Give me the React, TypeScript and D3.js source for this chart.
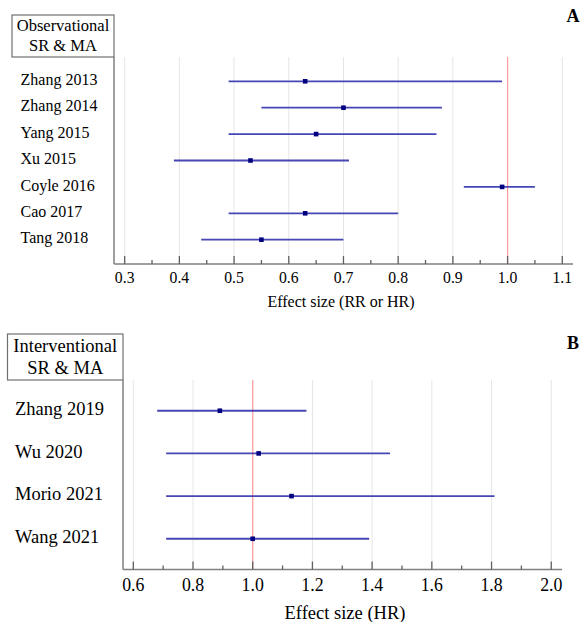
import React, { useEffect, useRef } from "react";
import * as d3 from "d3";

// Panel A: observational SR & MA
const obsStudies = ["Zhang 2013", "Zhang 2014", "Yang 2015", "Xu 2015", "Coyle 2016", "Cao 2017", "Tang 2018"];
const obsEffect = [0.63, 0.7, 0.65, 0.53, 0.99, 0.63, 0.55];
const obsLower = [0.49, 0.55, 0.49, 0.39, 0.92, 0.49, 0.44];
const obsUpper = [0.99, 0.88, 0.87, 0.71, 1.05, 0.8, 0.7];
const obsTicks = [0.3, 0.4, 0.5, 0.6, 0.7, 0.8, 0.9, 1.0, 1.1];
const obsMinorTicks = [0.35, 0.45, 0.55, 0.65, 0.75, 0.85, 0.95, 1.05];

// Panel B: interventional SR & MA
const intStudies = ["Zhang 2019", "Wu 2020", "Morio 2021", "Wang 2021"];
const intEffect = [0.89, 1.02, 1.13, 1.0];
const intLower = [0.68, 0.71, 0.71, 0.71];
const intUpper = [1.18, 1.46, 1.81, 1.39];
const intTicks = [0.6, 0.8, 1.0, 1.2, 1.4, 1.6, 1.8, 2.0];
const intMinorTicks = [0.7, 0.9, 1.1, 1.3, 1.5, 1.7, 1.9];

const FONT = '"Liberation Serif", "DejaVu Serif", serif';

const drawPanel = (svg, p) => {
  const g = svg.append("g").attr("font-family", FONT);

  const x = d3.scaleLinear().domain(p.domain).range([p.left, p.right]);
  const y = d3.scalePoint().domain(p.studies).range([p.top, p.bottom]).padding(p.pad);

  // gridlines
  g.selectAll(".grid")
    .data(p.ticks)
    .enter()
    .append("line")
    .attr("x1", (d) => x(d))
    .attr("x2", (d) => x(d))
    .attr("y1", p.top)
    .attr("y2", p.bottom)
    .attr("stroke", "#e6e6e6")
    .attr("stroke-width", 1);

  // reference line at 1
  g.append("line")
    .attr("x1", x(1))
    .attr("x2", x(1))
    .attr("y1", p.top)
    .attr("y2", p.bottom)
    .attr("stroke", "#ff9a9a")
    .attr("stroke-width", 1.2);

  // header box
  g.append("rect")
    .attr("x", p.boxX)
    .attr("y", p.boxY)
    .attr("width", p.left - p.boxX)
    .attr("height", p.top - p.boxY)
    .attr("fill", "none")
    .attr("stroke", "#707070")
    .attr("stroke-width", 1.2);

  p.boxLines.forEach((t, i) => {
    g.append("text")
      .attr("x", (p.boxX + p.left) / 2)
      .attr("y", p.boxY + p.boxLineY[i])
      .attr("text-anchor", "middle")
      .attr("dominant-baseline", "middle")
      .attr("font-size", p.boxFont)
      .text(t);
  });

  // axes lines
  g.append("line")
    .attr("x1", p.left)
    .attr("x2", p.left)
    .attr("y1", p.top)
    .attr("y2", p.bottom)
    .attr("stroke", "#808080")
    .attr("stroke-width", 1.5);
  g.append("line")
    .attr("x1", p.left)
    .attr("x2", p.right)
    .attr("y1", p.bottom)
    .attr("y2", p.bottom)
    .attr("stroke", "#808080")
    .attr("stroke-width", 1.5);

  // ticks
  g.selectAll(".major")
    .data(p.ticks)
    .enter()
    .append("line")
    .attr("x1", (d) => x(d))
    .attr("x2", (d) => x(d))
    .attr("y1", p.bottom)
    .attr("y2", p.bottom - 8)
    .attr("stroke", "#606060")
    .attr("stroke-width", 1.3);
  g.selectAll(".minor")
    .data(p.minor)
    .enter()
    .append("line")
    .attr("x1", (d) => x(d))
    .attr("x2", (d) => x(d))
    .attr("y1", p.bottom)
    .attr("y2", p.bottom - 4)
    .attr("stroke", "#606060")
    .attr("stroke-width", 1.3);

  g.selectAll(".tickLabel")
    .data(p.ticks)
    .enter()
    .append("text")
    .attr("x", (d) => x(d))
    .attr("y", p.bottom + p.tickLabelDy)
    .attr("text-anchor", "middle")
    .attr("dominant-baseline", "middle")
    .attr("font-size", p.tickFont)
    .text((d) => d3.format(".1f")(d));

  g.append("text")
    .attr("x", p.titleX)
    .attr("y", p.bottom + p.titleDy)
    .attr("text-anchor", "middle")
    .attr("dominant-baseline", "middle")
    .attr("font-size", p.titleFont)
    .text(p.axisTitle);

  // study labels
  g.selectAll(".study")
    .data(p.studies)
    .enter()
    .append("text")
    .attr("x", p.labelX)
    .attr("y", (d) => y(d))
    .attr("dominant-baseline", "middle")
    .attr("font-size", p.labelFont)
    .text((d) => d);

  // CI lines and point estimates
  p.studies.forEach((s, i) => {
    g.append("line")
      .attr("x1", x(p.lower[i]))
      .attr("x2", x(p.upper[i]))
      .attr("y1", y(s))
      .attr("y2", y(s))
      .attr("stroke", "#4646b4")
      .attr("stroke-width", 1.8);
    g.append("rect")
      .attr("x", x(p.effect[i]) - 2.3)
      .attr("y", y(s) - 2.3)
      .attr("width", 4.6)
      .attr("height", 4.6)
      .attr("fill", "#000080");
  });

  // panel letter
  g.append("text")
    .attr("x", 573)
    .attr("y", p.letterY)
    .attr("text-anchor", "middle")
    .attr("dominant-baseline", "middle")
    .attr("font-size", 18)
    .attr("font-weight", "bold")
    .text(p.letter);
};

const App = () => {
  const svgRef = useRef(null);

  useEffect(() => {
    const svg = d3.select(svgRef.current);
    svg.selectAll("*").remove();

    drawPanel(svg, {
      studies: obsStudies,
      effect: obsEffect,
      lower: obsLower,
      upper: obsUpper,
      ticks: obsTicks,
      minor: obsMinorTicks,
      domain: [0.2805, 1.1196],
      left: 114,
      right: 573,
      top: 57,
      bottom: 264,
      pad: 0.92,
      boxX: 12,
      boxY: 15,
      boxLines: ["Observational", "SR & MA"],
      boxLineY: [12, 32],
      boxFont: 16.5,
      labelX: 20.5,
      labelFont: 16,
      tickFont: 15.7,
      tickLabelDy: 15.5,
      titleFont: 16,
      titleDy: 39,
      titleX: 341,
      axisTitle: "Effect size (RR or HR)",
      letter: "A",
      letterY: 18,
    });

    drawPanel(svg, {
      studies: intStudies,
      effect: intEffect,
      lower: intLower,
      upper: intUpper,
      ticks: intTicks,
      minor: intMinorTicks,
      domain: [0.5655, 2.036],
      left: 123,
      right: 562,
      top: 380,
      bottom: 569.5,
      pad: 0.72,
      boxX: 7.5,
      boxY: 334,
      boxLines: ["Interventional", "SR & MA"],
      boxLineY: [13.5, 36],
      boxFont: 18.5,
      labelX: 15,
      labelFont: 18.5,
      tickFont: 17.8,
      tickLabelDy: 17,
      titleFont: 18.5,
      titleDy: 45.5,
      titleX: 345,
      axisTitle: "Effect size (HR)",
      letter: "B",
      letterY: 345,
    });
  }, []);

  return (
    <svg
      ref={svgRef}
      width={580}
      height={622}
      style={{ position: "absolute", left: 0, top: 0, background: "#fff" }}
    ></svg>
  );
};

export default App;
